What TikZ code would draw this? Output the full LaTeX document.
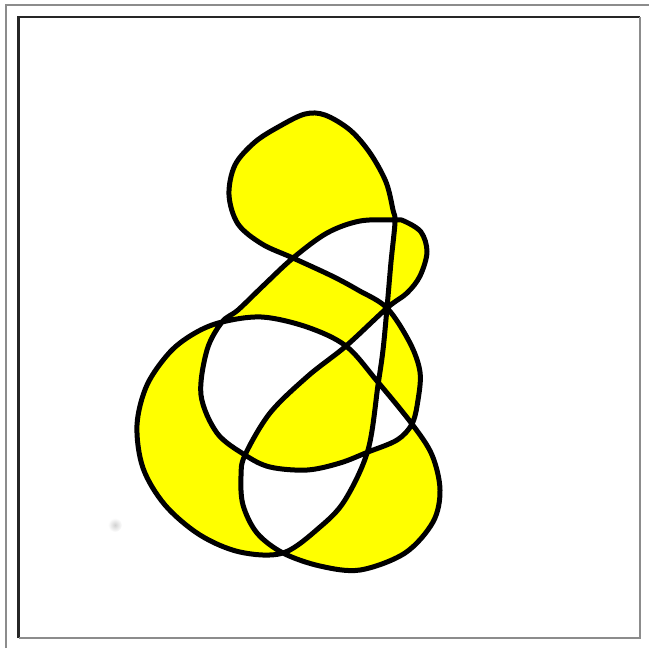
\documentclass[tikz,border=0pt]{standalone}
\usepackage{xcolor}
\usepackage{tikz}
\definecolor{knotyellow}{HTML}{FFFF00}
\definecolor{framegray}{HTML}{8C8C8C}
\definecolor{framedark}{HTML}{262626}

\begin{document}
\begin{tikzpicture}[
    x=0.1mm, y=-0.1mm,
    knot/.style={draw=black, line width=0.5mm, fill=knotyellow,
                 even odd rule, line join=round},
    outerline/.style={framegray, line width=0.22mm},
    darkline/.style={framedark, line width=0.22mm},
    lightline/.style={framegray, line width=0.22mm}
]
\useasboundingbox (0,0) rectangle (649,648);
% frames
\draw[outerline] (6,648) -- (6,5) -- (649,5);
\draw[darkline] (18.5,638) -- (18.5,17) -- (640,17);
\draw[lightline] (640,17) -- (640,638) -- (18.5,638);
% smudge
\shade[inner color=black!18, outer color=white] (115,525) circle (7);
% the knot, one closed line
\path[knot] plot[smooth cycle, tension=0.55] coordinates {
    (293,258) (262,244) (238,224) (229,195) (235,165) (255,142) (280,126)
    (305,114) (325,115) (350,130) (370,153) (386,182) (393,210) (395,222)
    (391,262) (387,308) (383,350) (378,385) (368,450) (345,500)
    (320,527) (283,553)
    (240,552) (200,535) (165,505) (143,468) (137,425) (147,385)
    (170,352) (195,333) (222,322)
    (262,317) (307,327) (346,346) (377,381) (412,424)
    (432,455) (440,490) (433,522) (405,553) (360,570) (320,566)
    (283,553)
    (257,533) (243,505) (241,476) (245,455)
    (270,413) (308,376) (346,346) (387,308)
    (407,293) (420,276) (427,252) (421,232) (404,221) (395,220)
    (360,221) (327,233) (293,258)
    (264,285) (238,310) (222,322) (207,350) (201,395) (217,433)
    (245,455)
    (270,467) (307,470) (340,463) (368,452) (397,440) (412,424)
    (418,400) (420,372) (410,343) (387,308)
    (358,290) (332,276)
};
\end{tikzpicture}
\end{document}
